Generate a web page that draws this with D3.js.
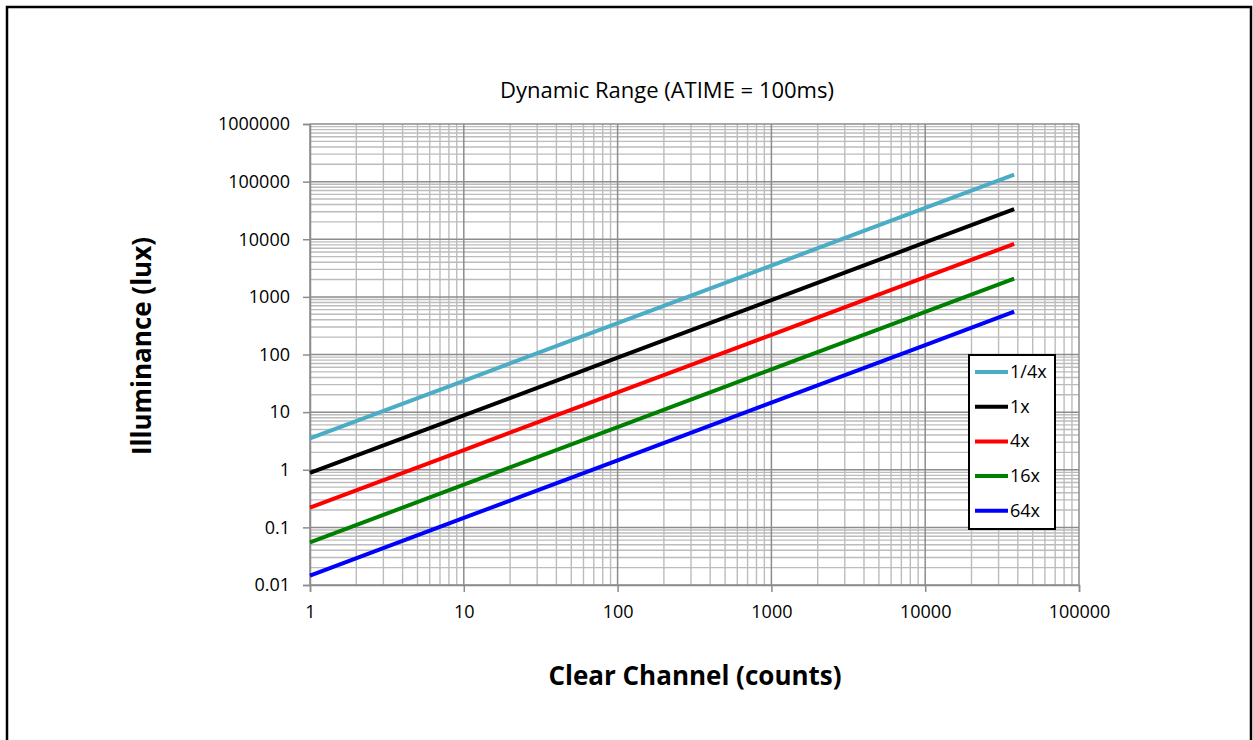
<!DOCTYPE html>
<html><head><meta charset="utf-8">
<script src="https://cdn.jsdelivr.net/npm/d3@7"></script>
<style>body{margin:0;background:#fff;}svg{display:block;font-family:"Open Sans","Noto Sans",sans-serif;}</style>
</head><body>
<svg id="c" width="1253" height="740"></svg>
<script>
const counts = [1, 10, 100, 1000, 10000, 37888];
const seriesNames = ["1/4x", "1x", "4x", "16x", "64x"];
const lux_quarter = [3.5, 35, 350, 3500, 35000, 132600];
const lux_1x = [0.88, 8.8, 88, 880, 8800, 33300];
const lux_4x = [0.22, 2.2, 22, 220, 2200, 8330];
const lux_16x = [0.055, 0.55, 5.5, 55, 550, 2080];
const lux_64x = [0.0146, 0.146, 1.46, 14.6, 146, 553];
const seriesColors = ["#4bacc6", "#000000", "#ff0000", "#008000", "#0000ff"];
const xTicks = [1, 10, 100, 1000, 10000, 100000];
const yTicks = [0.01, 0.1, 1, 10, 100, 1000, 10000, 100000, 1000000];
const yTickLabels = ["0.01", "0.1", "1", "10", "100", "1000", "10000", "100000", "1000000"];
const xTickLabels = ["1", "10", "100", "1000", "10000", "100000"];

const allSeries = [lux_quarter, lux_1x, lux_4x, lux_16x, lux_64x];
const svg = d3.select("#c");
const L = 310, R = 1079, T = 124, B = 585;
const x = d3.scaleLog().domain([1, 100000]).range([L, R]);
const y = d3.scaleLog().domain([0.01, 1000000]).range([B, T]);

// outer frame
svg.append("path").attr("d", "M7,740 V7 H1251 V740").attr("fill", "none").attr("stroke", "#000").attr("stroke-width", 2.5);

// minor grid
const minorX = [], minorY = [];
for (let d = 0; d < 5; d++) for (let m = 2; m <= 9; m++) minorX.push(m * Math.pow(10, d));
for (let d = -2; d < 6; d++) for (let m = 2; m <= 9; m++) minorY.push(m * Math.pow(10, d));
const g = svg.append("g");
g.selectAll(".mx").data(minorX).join("line").attr("x1", d => x(d)).attr("x2", d => x(d)).attr("y1", T).attr("y2", B).attr("stroke", "#bcbcbc").attr("stroke-width", 1.4);
g.selectAll(".my").data(minorY).join("line").attr("y1", d => y(d)).attr("y2", d => y(d)).attr("x1", L).attr("x2", R).attr("stroke", "#bcbcbc").attr("stroke-width", 1.4);
// major grid
g.selectAll(".Mx").data(xTicks).join("line").attr("x1", d => x(d)).attr("x2", d => x(d)).attr("y1", T).attr("y2", B).attr("stroke", "#8c8c8c").attr("stroke-width", 1.5);
g.selectAll(".My").data(yTicks).join("line").attr("y1", d => y(d)).attr("y2", d => y(d)).attr("x1", L).attr("x2", R).attr("stroke", "#8c8c8c").attr("stroke-width", 1.5);

// axes
const xAxis = d3.axisBottom(x).tickValues(xTicks).tickSize(7).tickPadding(12).tickFormat((d, i) => xTickLabels[i]);
const yAxis = d3.axisLeft(y).tickValues(yTicks).tickSize(7).tickPadding(13).tickFormat((d, i) => yTickLabels[i]);
const gx = svg.append("g").attr("transform", `translate(0,${B})`).call(xAxis);
const gy = svg.append("g").attr("transform", `translate(${L},0)`).call(yAxis);
[gx, gy].forEach(a => {
  a.select(".domain").attr("stroke", "#8c8c8c").attr("stroke-width", 1.5);
  a.selectAll(".tick line").attr("stroke", "#8c8c8c").attr("stroke-width", 1.5);
  a.selectAll(".tick text").attr("fill", "#000").style("font-size", "18px").style("font-family", "'Open Sans','Noto Sans',sans-serif");
});
gx.selectAll(".tick text").attr("dy", "0.75em");

// lines
const line = d3.line().x((d, i) => x(counts[i])).y(d => y(d));
allSeries.forEach((s, k) => {
  svg.append("path").datum(s).attr("d", line).attr("fill", "none").attr("stroke", seriesColors[k]).attr("stroke-width", 4);
});

// title & axis titles
svg.append("text").attr("x", 667).attr("y", 98).attr("text-anchor", "middle").style("font-size", "22px").text("Dynamic Range (ATIME = 100ms)");
svg.append("text").attr("x", 695).attr("y", 685).attr("text-anchor", "middle").style("font-size", "26px").style("font-weight", "bold").text("Clear Channel (counts)");
svg.append("text").attr("transform", "translate(151,346) rotate(-90)").attr("text-anchor", "middle").style("font-size", "26px").style("font-weight", "bold").text("Illuminance (lux)");

// legend
const lg = svg.append("g");
lg.append("rect").attr("x", 969).attr("y", 355).attr("width", 86).attr("height", 174).attr("fill", "#fff").attr("stroke", "#000").attr("stroke-width", 2);
seriesNames.forEach((n, i) => {
  const yy = 372 + i * 34.7;
  lg.append("line").attr("x1", 975).attr("x2", 1008).attr("y1", yy).attr("y2", yy).attr("stroke", seriesColors[i]).attr("stroke-width", 4);
  lg.append("text").attr("x", 1010).attr("y", yy + 6).style("font-size", "18px").text(n);
});
</script>
</body></html>
